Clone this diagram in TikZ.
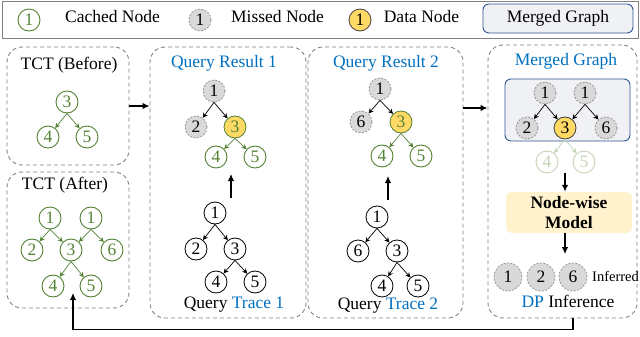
\documentclass[tikz,border=0pt]{standalone}
\usepackage{fontspec}
\setmainfont{Liberation Serif}
\usetikzlibrary{arrows.meta,calc}
\definecolor{cgreen}{RGB}{84,130,53}
\definecolor{cblue}{RGB}{0,112,192}
\definecolor{mfill}{RGB}{217,217,217}
\definecolor{mgray}{RGB}{150,150,150}
\definecolor{cyellow}{RGB}{255,217,102}
\definecolor{pgray}{RGB}{128,128,128}
\definecolor{mgfill}{RGB}{240,241,245}
\definecolor{mgborder}{RGB}{47,85,151}
\definecolor{modfill}{RGB}{255,242,204}
\tikzset{
  lbl/.style={inner sep=0pt, text height=12pt, text depth=4pt},
  cnode/.style={circle, draw=cgreen, text=cgreen, line width=0.9pt, minimum size=22pt, inner sep=0pt},
  knode/.style={circle, draw=black, line width=0.8pt, minimum size=22pt, inner sep=0pt},
  mnode/.style={circle, draw=mgray, dash pattern=on 2pt off 1.5pt, fill=mfill, minimum size=22pt, inner sep=0pt, line width=0.8pt},
  dnode/.style={circle, draw=black!75, fill=cyellow, minimum size=22pt, inner sep=0pt, line width=0.8pt},
  fnode/.style={cnode, draw=cgreen!35, text=cgreen!35},
  panel/.style={draw=pgray, line width=0.9pt, dash pattern=on 4pt off 3pt, rounded corners=15pt, inner sep=0pt},
  bigarrow/.style={-{Latex[length=7pt,width=6.5pt]}, line width=1.8pt},
  gedge/.style={-{Stealth[length=5pt,width=5pt]}, line width=0.7pt, cgreen},
  kedge/.style={-{Stealth[length=5pt,width=5pt]}, line width=0.7pt, black},
  fedge/.style={-{Stealth[length=5pt,width=5pt]}, line width=0.7pt, cgreen!35},
  mgbox/.style={draw=mgborder, fill=mgfill, rounded corners=6pt, line width=0.9pt, inner sep=0pt}
}
\begin{document}
\begin{tikzpicture}[x=1pt,y=-1pt, every node/.style={font=\fontsize{17.5}{20}\selectfont}]
\useasboundingbox (0,0) rectangle (640,337);
% legend
\node[draw=pgray, line width=0.8pt, minimum width=636pt, minimum height=37pt, inner sep=0pt] (legend) at (320,19.5) {};
\node[cnode] (lg1) at (29,20) {1};
\node[lbl] (lgt1) at (112.5,19) {Cached Node};
\node[mnode] (lg2) at (200,20) {1};
\node[lbl] (lgt2) at (277.5,19) {Missed Node};
\node[dnode] (lg3) at (360,20) {1};
\node[lbl] (lgt3) at (421.5,19) {Data Node};
\node[mgbox, minimum width=150pt, minimum height=29pt] (lgmg) at (558,18.5) {Merged Graph};

% panels
\node[panel, minimum width=122pt, minimum height=118pt] (pA) at (68,106) {};
\node[panel, minimum width=122pt, minimum height=136pt] (pB) at (68,240) {};
\node[panel, minimum width=156pt, minimum height=271pt] (pC) at (228,182.5) {};
\node[panel, minimum width=155pt, minimum height=271pt] (pD) at (385.5,182.5) {};
\node[panel, minimum width=149pt, minimum height=273pt] (pE) at (562.5,181.5) {};

% panel A
\node[lbl] (tA) at (69,66) {TCT (Before)};
\node[cnode] (a3) at (67,102) {3};
\node[cnode] (a4) at (48,137) {4};
\node[cnode] (a5) at (87,137) {5};
\draw[gedge] (a3.south) -- (a4);
\draw[gedge] (a3.south) -- (a5);

% panel B
\node[lbl] (tB) at (65,185) {TCT (After)};
\node[cnode] (b1a) at (50,218) {1};
\node[cnode] (b1b) at (91,218) {1};
\node[cnode] (b2) at (32,250) {2};
\node[cnode] (b3) at (71,250) {3};
\node[cnode] (b6) at (112,250) {6};
\node[cnode] (b4) at (53,286) {4};
\node[cnode] (b5) at (91,286) {5};
\draw[gedge] (b1a.south) -- (b2);
\draw[gedge] (b1a.south) -- (b3);
\draw[gedge] (b1b.south) -- (b3);
\draw[gedge] (b1b.south) -- (b6);
\draw[gedge] (b3.south) -- (b4);
\draw[gedge] (b3.south) -- (b5);

% panel C
\node[lbl, text=cblue] (tC) at (224,64) {Query Result 1};
\node[mnode] (c1) at (214,91) {1};
\node[mnode] (c2) at (196,127) {2};
\node[dnode, draw=cgreen, text=cgreen] (c3) at (235,127) {3};
\node[cnode] (c4) at (216,157) {4};
\node[cnode] (c5) at (255,157) {5};
\draw[kedge] (c1.south) -- (c2);
\draw[kedge] (c1.south) -- (c3);
\draw[gedge] (c3.south) -- (c4);
\draw[gedge] (c3.south) -- (c5);
\coordinate (upC) at (231,198);
\draw[bigarrow] (upC) -- ++(0,-24);
\node[knode] (q1) at (215,213) {1};
\node[knode] (q2) at (196,249) {2};
\node[knode] (q3) at (235,249) {3};
\node[knode] (q4) at (216,282) {4};
\node[knode] (q5) at (255,282) {5};
\draw[kedge] (q1.south) -- (q2);
\draw[kedge] (q1.south) -- (q3);
\draw[kedge] (q3.south) -- (q4);
\draw[kedge] (q3.south) -- (q5);
\node[lbl] (tC2) at (234,304) {Query \textcolor{cblue}{Trace 1}};

% panel D
\node[lbl, text=cblue] (tD) at (386,64) {Query Result 2};
\node[mnode] (d1) at (380,89) {1};
\node[mnode] (d6) at (361,122) {6};
\node[dnode, draw=cgreen, text=cgreen] (d3) at (401,122) {3};
\node[cnode] (d4) at (382,156) {4};
\node[cnode] (d5) at (421,156) {5};
\draw[kedge] (d1.south) -- (d6);
\draw[kedge] (d1.south) -- (d3);
\draw[gedge] (d3.south) -- (d4);
\draw[gedge] (d3.south) -- (d5);
\coordinate (upD) at (388,200);
\draw[bigarrow] (upD) -- ++(0,-24);
\node[knode] (r1) at (377,217) {1};
\node[knode] (r6) at (358,251) {6};
\node[knode] (r3) at (397,251) {3};
\node[knode] (r4) at (382,286) {4};
\node[knode] (r5) at (418,286) {5};
\draw[kedge] (r1.south) -- (r6);
\draw[kedge] (r1.south) -- (r3);
\draw[kedge] (r3.south) -- (r4);
\draw[kedge] (r3.south) -- (r5);
\node[lbl] (tD2) at (388,305) {Query \textcolor{cblue}{Trace 2}};

% panel E
\node[lbl, text=cblue] (tE) at (566,62) {Merged Graph};
\node[mgbox, minimum width=125pt, minimum height=62pt] (mg) at (567.5,110) {};
\node[mnode] (e1a) at (545,93) {1};
\node[mnode] (e1b) at (585,93) {1};
\node[mnode] (e2) at (527,128) {2};
\node[dnode] (e3) at (565,128) {3};
\node[mnode] (e6) at (606,128) {6};
\node[fnode] (e4) at (547,162) {4};
\node[fnode] (e5) at (584,162) {5};
\draw[kedge] (e1a.south) -- (e2);
\draw[kedge] (e1a.south) -- (e3);
\draw[kedge] (e1b.south) -- (e3);
\draw[kedge] (e1b.south) -- (e6);
\draw[fedge] (e3.south) -- (e4);
\draw[fedge] (e3.south) -- (e5);
\node[fill=modfill, rounded corners=6pt, minimum width=126pt, minimum height=41pt, inner sep=0pt, align=center, font=\fontsize{17.5}{20}\selectfont\bfseries] (model) at (569,212.5) {Node-wise\\Model};
\draw[bigarrow] ([yshift=19pt]model.north -| e3) -- (model.north -| e3);
\draw[bigarrow] (model.south -| e3) -- ++(0,21);
\node[mnode, minimum size=28pt] (i1) at (508,277) {1};
\node[mnode, minimum size=28pt] (i2) at (541,277) {2};
\node[mnode, minimum size=28pt] (i6) at (573,277) {6};
\node[anchor=west, inner sep=0pt, font=\fontsize{14.5}{16}\selectfont] (inf) at (592,276) {Inferred};
\node[lbl] (tE2) at (568,303) {\textcolor{cblue}{DP} Inference};

% connectors between panels
\draw[bigarrow] (pA.east) -- (pA.east -| pC.west);
\coordinate (dE) at (pE.west |- 0,108);
\draw[bigarrow] (pD.east |- dE) -- (dE);
\coordinate (fbend) at (73,293);
\draw[bigarrow] (pE.south -| i6) -- ++(0,11) -| (fbend);
\end{tikzpicture}
\end{document}
